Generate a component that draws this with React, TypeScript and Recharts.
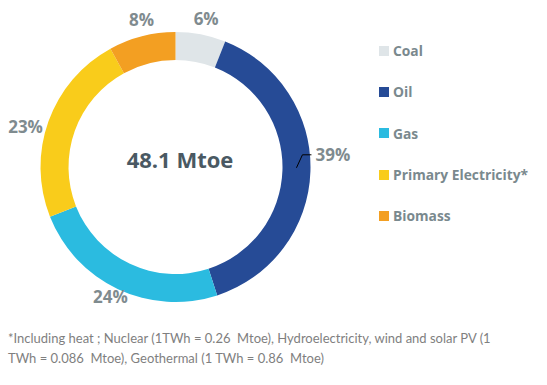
import React from "react";
import { PieChart, Pie, Cell, Legend } from "recharts";

const categories = ["Coal", "Oil", "Gas", "Primary Electricity*", "Biomass"];
const shares = [6, 39, 24, 23, 8];
const colors = ["#dfe5e8", "#264b96", "#2bbbe0", "#f9cc1b", "#f39f22"];
const totalLabel = "48.1 Mtoe";
const footnoteLines = [
  "*Including heat ; Nuclear (1TWh = 0.26  Mtoe), Hydroelectricity, wind and solar PV (1",
  "TWh = 0.086  Mtoe), Geothermal (1 TWh = 0.86  Mtoe)",
];

const data = categories.map((name, i) => ({ name, value: shares[i] }));

const RAD = Math.PI / 180;
const labelColor = "#7f8b8f";
const font = "'Open Sans', 'Noto Sans', sans-serif";
// small label nudges (dx, dy) relative to radial placement
const labelNudge = [
  [2, 2],
  [0, 0],
  [0, -8],
  [-6, 12],
  [4, 1],
];

const renderLabel = (props: any) => {
  const { cx, cy, midAngle, outerRadius, index, value } = props;
  const cos = Math.cos(-midAngle * RAD);
  const sin = Math.sin(-midAngle * RAD);
  if (index === 1) {
    const x0 = cx + (outerRadius - 14) * cos;
    const y0 = cy + (outerRadius - 14) * sin - 3;
    const x1 = x0 + 6;
    const y1 = y0 - 13;
    const x2 = x1 + 9;
    return (
      <g>
        <polyline points={`${x0},${y0} ${x1},${y1} ${x2},${y1}`} fill="none" stroke="#000" strokeWidth={1} />
        <text x={x2 + 4} y={y1 + 6} fill={labelColor} fontSize={17} fontWeight="bold" fontFamily={font} textAnchor="start">
          {`${value}%`}
        </text>
      </g>
    );
  }
  const r = outerRadius + 18;
  const x = cx + r * cos + labelNudge[index][0];
  const y = cy + r * sin + labelNudge[index][1];
  return (
    <text x={x} y={y + 6} fill={labelColor} fontSize={17} fontWeight="bold" fontFamily={font} textAnchor="middle">
      {`${value}%`}
    </text>
  );
};

const renderLegend = () => (
  <div style={{ fontFamily: font }}>
    {categories.map((c, i) => (
      <div key={c} style={{ display: "flex", alignItems: "center", height: 41.3 }}>
        <span style={{ display: "inline-block", width: 10, height: 10, background: colors[i], marginRight: 4 }} />
        <span style={{ color: "#7a898e", fontSize: 13.8, fontWeight: "bold" }}>{c}</span>
      </div>
    ))}
  </div>
);

export default function App() {
  return (
    <div style={{ position: "absolute", left: 0, top: 0, width: 547, height: 385, background: "#fff" }}>
      <PieChart width={547} height={385} margin={{ top: 0, right: 0, bottom: 0, left: 0 }}>
        <Pie
          data={data}
          dataKey="value"
          cx={175.5}
          cy={167}
          innerRadius={107}
          outerRadius={135}
          startAngle={90}
          endAngle={-270}
          stroke="none"
          label={renderLabel}
          labelLine={false}
          isAnimationActive={false}
        >
          {data.map((d, i) => (
            <Cell key={d.name} fill={colors[i]} />
          ))}
        </Pie>
        <Legend
          content={renderLegend}
          layout="vertical"
          wrapperStyle={{ position: "absolute", left: 379, top: 30, width: 168 }}
        />
        <text x={180} y={162} textAnchor="middle" dominantBaseline="middle" fill="#4a5963" fontSize={22} fontWeight="bold" fontFamily={font}>
          {totalLabel}
        </text>
        {footnoteLines.map((t, i) => (
          <text key={i} x={8} y={343 + i * 20} fill="#7f7f7f" fontSize={13} fontFamily="Lato, 'Liberation Sans', sans-serif" style={{ whiteSpace: "pre" }}>
            {t}
          </text>
        ))}
      </PieChart>
    </div>
  );
}
